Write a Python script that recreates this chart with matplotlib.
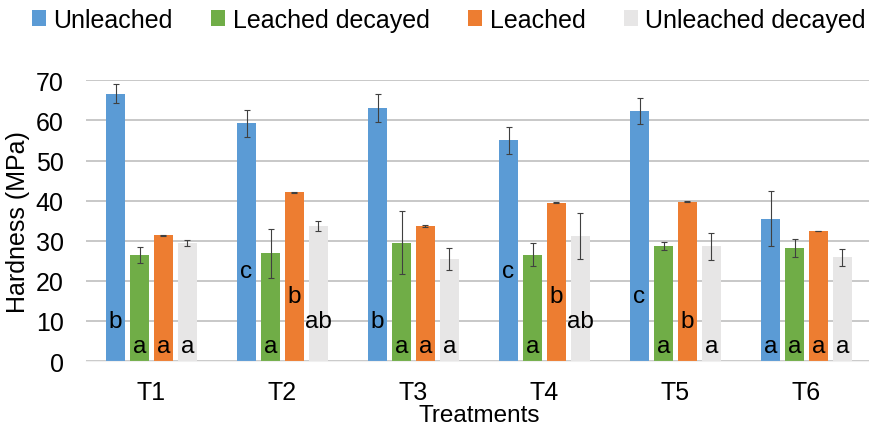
import numpy as np
import matplotlib
matplotlib.use("Agg")
import matplotlib.pyplot as plt

# values (MPa)
treatments = ["T1", "T2", "T3", "T4", "T5", "T6"]
series = ["Unleached", "Leached decayed", "Leached", "Unleached decayed"]

unleached = [66.7, 59.3, 63.2, 55.0, 62.3, 35.5]
leached_decayed = [26.5, 26.9, 29.5, 26.5, 28.7, 28.1]
leached = [31.3, 42.1, 33.6, 39.5, 39.7, 32.4]
unleached_decayed = [29.4, 33.6, 25.4, 31.2, 28.6, 25.9]

err_unleached = [2.3, 3.4, 3.5, 3.4, 3.2, 6.9]
err_leached_decayed = [2.0, 6.1, 7.9, 2.9, 0.9, 2.2]
err_leached = [0.1, 0.15, 0.2, 0.2, 0.15, 0.1]
err_unleached_decayed = [0.7, 1.2, 2.7, 5.7, 3.4, 2.1]

letters_unleached = ["b", "c", "b", "c", "c", "a"]
letters_leached_decayed = ["a", "a", "a", "a", "a", "a"]
letters_leached = ["a", "b", "a", "b", "b", "a"]
letters_unleached_decayed = ["a", "ab", "a", "ab", "a", "a"]

# heights where the significance letters sit (layout only)
letter_y_unleached = [10, 22.5, 10, 22.5, 16.2, 3.7]
letter_y_leached_decayed = [3.7] * 6
letter_y_leached = [3.7, 16.3, 3.7, 16.3, 10, 3.7]
letter_y_unleached_decayed = [3.7, 10, 3.7, 10, 3.7, 3.7]

colors = ["#5B9BD5", "#70AD47", "#ED7D31", "#E7E6E6"]

plt.rcParams['font.family'] = ['Liberation Sans', 'DejaVu Sans']

fig = plt.figure(figsize=(8.7, 4.27), dpi=100)
ax = fig.add_axes([86 / 870, 1 - 362 / 427, 786 / 870, 280.7 / 427])

x = np.arange(len(treatments))
width = 0.145
step = 0.183

values = [unleached, leached_decayed, leached, unleached_decayed]
errors = [err_unleached, err_leached_decayed, err_leached, err_unleached_decayed]
letters = [letters_unleached, letters_leached_decayed, letters_leached, letters_unleached_decayed]
letter_ys = [letter_y_unleached, letter_y_leached_decayed, letter_y_leached, letter_y_unleached_decayed]

for i, name in enumerate(series):
    pos = x + (i - 1.5) * step
    ax.bar(pos, values[i], width, color=colors[i], label=name, zorder=2)
    ax.errorbar(pos, values[i], yerr=errors[i], fmt="none", ecolor="#404040",
                elinewidth=0.8, capsize=2, capthick=0.8, zorder=3)
    for xp, txt, yp in zip(pos, letters[i], letter_ys[i]):
        ax.text(xp, yp, txt, ha="center", va="center", fontsize=17.5, zorder=4)

ax.set_xlim(-0.5, len(treatments) - 0.5)
ax.set_ylim(0, 70)
ax.set_yticks(range(0, 71, 10))
ax.set_xticks(x)
ax.set_xticklabels(treatments)
ax.tick_params(axis="both", length=0, labelsize=18)
ax.tick_params(axis="y", pad=16)
ax.tick_params(axis="x", pad=14)
ax.grid(axis="y", color="#BFBFBF", linewidth=1.2, zorder=0)
for s in ["top", "right", "left"]:
    ax.spines[s].set_visible(False)
ax.spines["bottom"].set_color("#F0F0F0")

ax.set_ylabel("Hardness (MPa)", fontsize=18, labelpad=4)
ax.set_xlabel("Treatments", fontsize=17.5, labelpad=0)

fig.legend(loc="center", bbox_to_anchor=(0.516, 1 - 21 / 427), ncol=4, frameon=False,
           fontsize=18, handlelength=0.55, handleheight=0.6, handletextpad=0.3,
           columnspacing=1.55, borderaxespad=0, borderpad=0)

fig.savefig("out.png", dpi=100)
